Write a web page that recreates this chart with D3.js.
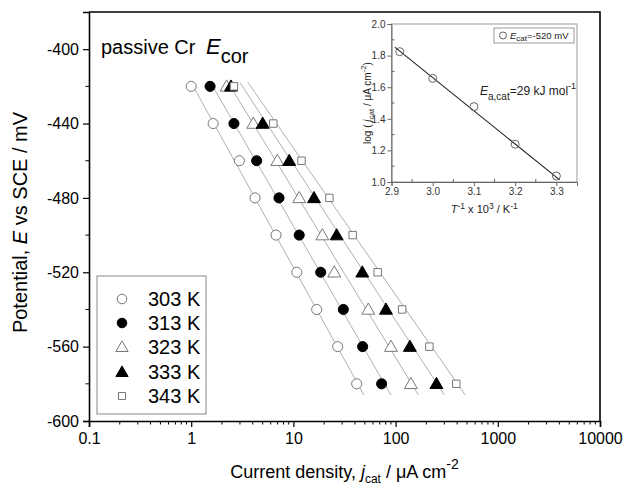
<!DOCTYPE html>
<html><head><meta charset="utf-8">
<script src="https://cdn.jsdelivr.net/npm/d3@7"></script>
<style>
body{margin:0;background:#fff;}
text{font-family:"Liberation Sans",Arial,sans-serif;}
</style></head>
<body><svg id="c" width="623" height="500"></svg>
<script>
// ---- data ----
const potentials = [-420,-440,-460,-480,-500,-520,-540,-560,-580];
const seriesNames = ["303 K","313 K","323 K","333 K","343 K"];
const j303 = [1.0,1.64,2.96,4.21,6.76,10.8,16.9,27.1,41.6];
const j313 = [1.53,2.62,4.37,7.23,11.4,18.5,30.8,47.6,73];
const j323 = [2.22,4.05,6.96,11.4,19.2,25.1,54,90,141];
const j333 = [2.45,5.0,9.1,15.9,26.5,47.2,80.5,138,251];
const j343 = [2.62,6.36,12.0,22.5,38.0,66.8,116,214,392];
const fitPot = [-418,-586];
const fitTopJ = [1.0,1.55,2.3,3.0,3.6];
const fitBottomJ = [49,90,167,300,480];
const xTicks = [0.1,1,10,100,1000,10000];
const yTicks = [-600,-560,-520,-480,-440,-400];
// inset
const invT = [2.92,3.0,3.1,3.2,3.3];
const logJcat = [1.825,1.656,1.477,1.239,1.038];
const insetFitX = [2.908,3.308];
const insetFitY = [1.854,1.013];
const insetXTicks = [2.9,3.0,3.1,3.2,3.3];
const insetYTicks = [1.0,1.2,1.4,1.6,1.8,2.0];

const svg = d3.select("#c");
const L=89,R=600,T=12,B=421;
const x = d3.scaleLog().domain([0.1,10000]).range([L,R]);
const y = d3.scaleLinear().domain([-600,-380]).range([B,T]);

const allSeries = [j303,j313,j323,j333,j343];
const markerType = [
  {shape:d3.symbolCircle, fill:"#fff", stroke:"#777", size:80},
  {shape:d3.symbolCircle, fill:"#000", stroke:"#000", size:80},
  {shape:d3.symbolTriangle, fill:"#fff", stroke:"#777", size:72},
  {shape:d3.symbolTriangle, fill:"#000", stroke:"#000", size:72},
  {shape:d3.symbolSquare, fill:"#fff", stroke:"#777", size:55}
];

// fit lines
const gl = svg.append("g");
seriesNames.forEach((n,i)=>{
  gl.append("line")
    .attr("x1",x(fitTopJ[i])).attr("y1",y(fitPot[0]))
    .attr("x2",x(fitBottomJ[i])).attr("y2",y(fitPot[1]))
    .attr("stroke","#b0b0b0").attr("stroke-width",1);
});
// markers
allSeries.forEach((arr,i)=>{
  const m = markerType[i];
  svg.append("g").selectAll("path").data(arr).join("path")
    .attr("d", d3.symbol().type(m.shape).size(m.size))
    .attr("transform",(d,k)=>`translate(${x(d)},${y(potentials[k]) + (m.shape===d3.symbolTriangle?1:0)})`)
    .attr("fill",m.fill).attr("stroke",m.stroke).attr("stroke-width",1);
});

// axes
const xAxis = d3.axisBottom(x).tickValues(xTicks).tickFormat(d=>String(d)).tickSize(6).tickPadding(6);
const gx = svg.append("g").attr("transform",`translate(0,${B})`).call(xAxis);
const minorX = [];
for(let e=-1;e<4;e++) for(let k=2;k<10;k++) minorX.push(k*Math.pow(10,e));
gx.selectAll(".minor").data(minorX).join("line").attr("class","minor")
  .attr("x1",d=>x(d)).attr("x2",d=>x(d)).attr("y1",0).attr("y2",3.5).attr("stroke","#000");
const yAxis = d3.axisLeft(y).tickValues(yTicks).tickFormat(d=>String(d)).tickSize(6).tickPadding(4);
const gy = svg.append("g").attr("transform",`translate(${L},0)`).call(yAxis);
gy.selectAll(".minor").data(d3.range(-580,-380,40)).join("line").attr("class","minor")
  .attr("x1",0).attr("x2",-3.5).attr("y1",d=>y(d)).attr("y2",d=>y(d)).attr("stroke","#000");
[gx,gy].forEach(g=>{
  g.select(".domain").attr("stroke","#000").attr("stroke-width",1.6);
  g.selectAll(".tick line").attr("stroke","#000").attr("stroke-width",1.2);
  g.selectAll(".tick text").attr("font-size",16).attr("fill","#000").attr("font-family","Liberation Sans, Arial, sans-serif");
});
// frame top/right
svg.append("path").attr("d",`M${L},${T}H${R}V${B}`).attr("fill","none").attr("stroke","#000").attr("stroke-width",1.6);

// axis titles
const yt = svg.append("text").attr("transform",`translate(27,${(T+B)/2+6}) rotate(-90)`)
  .attr("text-anchor","middle").attr("font-size",20);
yt.append("tspan").text("Potential, ");
yt.append("tspan").attr("font-style","italic").text("E");
yt.append("tspan").text(" vs SCE / mV");

const xt = svg.append("text").attr("x",(L+R)/2).attr("y",478).attr("text-anchor","middle").attr("font-size",18);
xt.append("tspan").text("Current density, ");
xt.append("tspan").attr("font-style","italic").text("j");
xt.append("tspan").attr("font-size",12).attr("dy",5).text("cat");
xt.append("tspan").attr("dy",-5).text(" / \u03bcA cm");
xt.append("tspan").attr("font-size",14).attr("dy",-9).text("-2");

// passive Cr label
svg.append("text").attr("x",101).attr("y",54).attr("font-size",20).text("passive Cr");
const pe = svg.append("text").attr("x",206).attr("y",54);
pe.append("tspan").attr("font-style","italic").attr("font-size",22).text("E");
pe.append("tspan").attr("font-size",20).attr("dy",9).text("cor");

// legend
svg.append("rect").attr("x",97).attr("y",276).attr("width",109).attr("height",138)
  .attr("fill","#fff").attr("stroke","#888").attr("stroke-width",1);
const legY = [299,323,347,372,396];
seriesNames.forEach((n,i)=>{
  const m = markerType[i];
  svg.append("path").attr("d",d3.symbol().type(m.shape).size(m.size*0.9))
    .attr("transform",`translate(122,${legY[i]+(m.shape===d3.symbolTriangle?1:0)})`)
    .attr("fill",m.fill).attr("stroke",m.stroke);
  svg.append("text").attr("x",148).attr("y",legY[i]+7).attr("font-size",20).text(n);
});

// ---- inset ----
const iL=391.5,iR=577,iT=24,iB=182;
const ix = d3.scaleLinear().domain([2.9,3.35]).range([iL,iR]);
const iy = d3.scaleLinear().domain([1.0,2.0]).range([iB,iT]);
svg.append("rect").attr("x",iL).attr("y",iT).attr("width",iR-iL).attr("height",iB-iT)
  .attr("fill","none").attr("stroke","#999").attr("stroke-width",1);
const gix = svg.append("g").attr("transform",`translate(0,${iB})`)
  .call(d3.axisBottom(ix).tickValues(insetXTicks).tickFormat(d3.format(".1f")).tickSize(4).tickPadding(2));
const giy = svg.append("g").attr("transform",`translate(${iL},0)`)
  .call(d3.axisLeft(iy).tickValues(insetYTicks).tickFormat(d3.format(".1f")).tickSize(4).tickPadding(2));
[gix,giy].forEach(g=>{
  g.select(".domain").attr("stroke","#666");
  g.selectAll(".tick line").attr("stroke","#666");
  g.selectAll(".tick text").attr("font-size",10).attr("fill","#333").attr("font-family","Liberation Sans, Arial, sans-serif");
});
gix.selectAll(".minor").data(d3.range(2.95,3.35,0.1)).join("line").attr("class","minor")
  .attr("x1",d=>ix(d)).attr("x2",d=>ix(d)).attr("y1",0).attr("y2",-3).attr("stroke","#666");
giy.selectAll(".minor").data(d3.range(1.1,2.0,0.2)).join("line").attr("class","minor")
  .attr("x1",0).attr("x2",3).attr("y1",d=>iy(d)).attr("y2",d=>iy(d)).attr("stroke","#666");

svg.append("line").attr("x1",ix(insetFitX[0])).attr("y1",iy(insetFitY[0]))
  .attr("x2",ix(insetFitX[1])).attr("y2",iy(insetFitY[1])).attr("stroke","#222").attr("stroke-width",1.1);
svg.append("g").selectAll("circle").data(invT).join("circle")
  .attr("cx",d=>ix(d)).attr("cy",(d,k)=>iy(logJcat[k])).attr("r",4)
  .attr("fill","none").attr("stroke","#666");

// inset legend
svg.append("rect").attr("x",494).attr("y",28).attr("width",80).attr("height",15)
  .attr("fill","#fff").attr("stroke","#999");
svg.append("circle").attr("cx",503).attr("cy",35.5).attr("r",3.5).attr("fill","none").attr("stroke","#666");
const il = svg.append("text").attr("x",510).attr("y",39).attr("font-size",9.5).attr("fill","#222");
il.append("tspan").attr("font-style","italic").text("E");
il.append("tspan").attr("font-size",8).attr("dy",2).text("cat");
il.append("tspan").attr("dy",-2).text("=-520 mV");

// annotation
const an = svg.append("text").attr("x",480).attr("y",95).attr("font-size",12).attr("fill","#222");
an.append("tspan").attr("font-style","italic").text("E");
an.append("tspan").attr("font-size",10).attr("dy",5).text("a,cat");
an.append("tspan").attr("dy",-5).text("=29 kJ mol");
an.append("tspan").attr("font-size",9).attr("dy",-6).text("-1");

// inset axis titles
const iyt = svg.append("text").attr("transform",`translate(371,${(iT+iB)/2}) rotate(-90)`)
  .attr("text-anchor","middle").attr("font-size",10).attr("fill","#222");
iyt.append("tspan").text("log ( ");
iyt.append("tspan").attr("font-style","italic").text("j");
iyt.append("tspan").attr("font-size",8).attr("dy",3).text("cat");
iyt.append("tspan").attr("dy",-3).text(" / \u03bcA cm");
iyt.append("tspan").attr("font-size",8).attr("dy",-5).text("-2");
iyt.append("tspan").attr("dy",5).text(")");

const ixt = svg.append("text").attr("x",(iL+iR)/2).attr("y",213).attr("text-anchor","middle").attr("font-size",11).attr("fill","#222");
ixt.append("tspan").attr("font-style","italic").text("T");
ixt.append("tspan").attr("font-size",8.5).attr("dy",-4).text("-1");
ixt.append("tspan").attr("dy",4).text(" x 10");
ixt.append("tspan").attr("font-size",8.5).attr("dy",-4).text("3");
ixt.append("tspan").attr("dy",4).text(" / K");
ixt.append("tspan").attr("font-size",8.5).attr("dy",-4).text("-1");
</script></body></html>
